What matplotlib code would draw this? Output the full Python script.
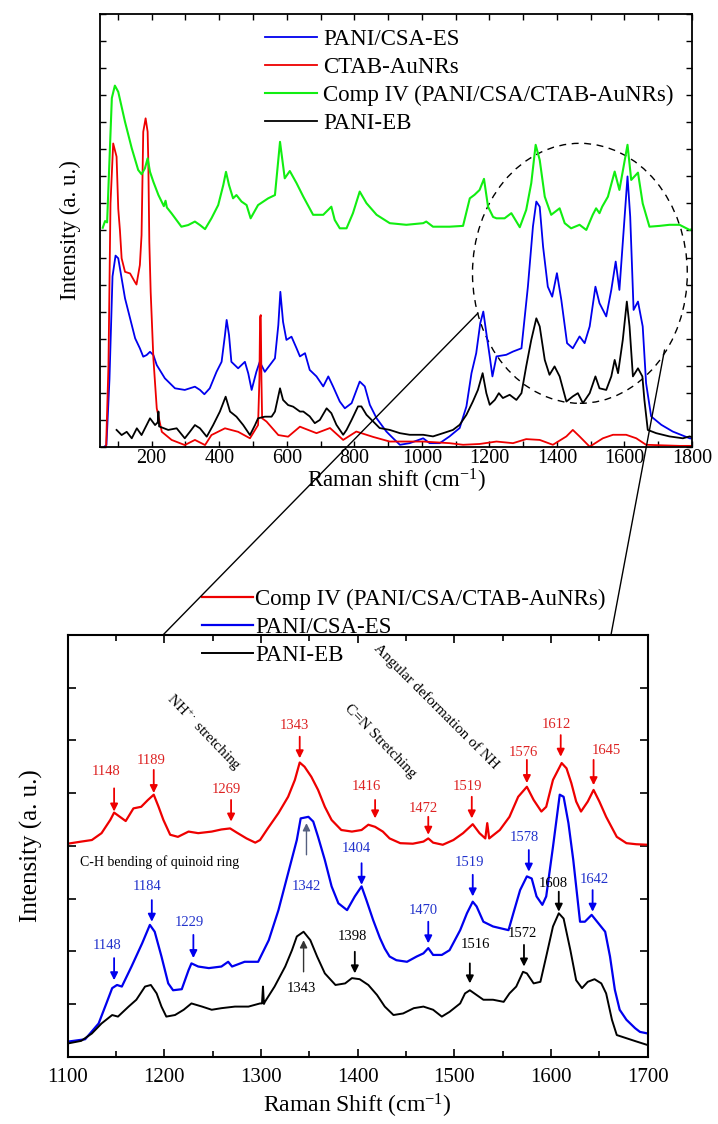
import matplotlib
matplotlib.use("Agg")
import matplotlib.pyplot as plt
from matplotlib.patches import Ellipse, ConnectionPatch
from matplotlib.ticker import MultipleLocator, NullFormatter

plt.rcParams['font.family'] = ['Liberation Serif', 'DejaVu Serif']
plt.rcParams['mathtext.fontset'] = 'custom'
plt.rcParams['mathtext.rm'] = 'Liberation Serif'
plt.rcParams['mathtext.it'] = 'Liberation Serif:italic'

# ---------------- top panel data (full range) ----------------
green_x = [55, 62, 68, 75, 82, 91, 101, 121, 141, 160, 170, 180, 188, 195, 205, 220, 236, 241, 245, 259, 288, 308, 328, 343, 358, 377, 397, 412, 420, 429, 441, 451, 466, 481, 493, 515, 545, 565, 580, 594, 609, 629, 649, 678, 708, 732, 742, 757, 777, 796, 816, 836, 866, 905, 954, 1004, 1013, 1033, 1082, 1122, 1142, 1156, 1171, 1184, 1196, 1211, 1221, 1245, 1265, 1290, 1309, 1324, 1337, 1349, 1364, 1383, 1408, 1423, 1442, 1467, 1487, 1506, 1516, 1526, 1534, 1551, 1571, 1585, 1609, 1620, 1640, 1654, 1674, 1704, 1733, 1763, 1793, 1800]
green_y = [8.1, 8.35, 8.3, 10.6, 12.9, 13.36, 13.13, 12.02, 11.04, 10.24, 10.08, 10.3, 10.67, 10.17, 9.8, 9.31, 8.9, 9.1, 8.85, 8.63, 8.14, 8.2, 8.33, 8.2, 8.05, 8.45, 8.94, 9.68, 10.17, 9.68, 9.19, 9.31, 9.07, 8.94, 8.45, 8.94, 9.19, 9.31, 11.28, 9.93, 10.2, 9.75, 9.25, 8.58, 8.58, 8.88, 8.39, 8.08, 8.08, 8.64, 9.44, 9.01, 8.58, 8.27, 8.21, 8.27, 8.33, 8.14, 8.14, 8.17, 9.19, 9.32, 9.5, 9.91, 8.88, 8.5, 8.45, 8.45, 8.64, 8.12, 8.76, 9.75, 11.17, 10.61, 9.25, 8.58, 8.82, 8.27, 8.08, 8.21, 8.02, 8.58, 8.82, 8.64, 8.88, 9.25, 10.18, 9.5, 11.17, 9.87, 10.14, 9.0, 8.14, 8.17, 8.21, 8.21, 8.02, 8.05]

red_x = [65, 72, 78, 86, 96, 101, 106, 111, 121, 136, 150, 155, 165, 170, 175, 182, 188, 190, 193, 197, 205, 215, 230, 259, 298, 328, 358, 377, 417, 456, 491, 515, 519, 521, 523, 525, 527, 540, 575, 604, 639, 649, 688, 728, 767, 806, 856, 905, 1004, 1082, 1122, 1171, 1221, 1270, 1309, 1349, 1388, 1428, 1447, 1467, 1497, 1536, 1566, 1605, 1635, 1664, 1763, 1800]
red_y = [0.0, 3.0, 9.0, 11.22, 10.73, 8.8, 8.0, 6.97, 6.47, 6.41, 6.1, 6.0, 6.72, 7.83, 11.65, 12.15, 11.65, 10.54, 7.58, 5.73, 3.27, 1.42, 0.55, 0.25, 0.06, 0.25, 0.06, 0.43, 0.68, 0.55, 0.31, 0.8, 2.5, 4.8, 4.87, 2.5, 1.05, 0.93, 0.43, 0.37, 0.74, 0.69, 0.5, 0.69, 0.25, 0.56, 0.36, 0.19, 0.19, 0.13, 0.07, 0.1, 0.19, 0.13, 0.28, 0.25, 0.07, 0.38, 0.62, 0.38, 0.0, 0.31, 0.44, 0.44, 0.31, 0.07, 0.03, 0.03]

blue_x = [60, 66, 75, 84, 93, 101, 111, 121, 136, 151, 165, 175, 185, 195, 205, 215, 239, 269, 298, 328, 343, 356, 372, 392, 407, 417, 422, 429, 436, 456, 476, 486, 496, 510, 520, 535, 550, 565, 575, 581, 589, 599, 614, 629, 639, 654, 668, 688, 708, 723, 737, 757, 772, 792, 816, 831, 846, 866, 895, 915, 935, 964, 1004, 1023, 1053, 1082, 1112, 1132, 1147, 1161, 1173, 1182, 1191, 1201, 1209, 1221, 1250, 1270, 1295, 1314, 1329, 1339, 1349, 1359, 1373, 1386, 1400, 1413, 1430, 1447, 1467, 1482, 1497, 1514, 1526, 1546, 1561, 1574, 1585, 1597, 1609, 1617, 1627, 1640, 1654, 1664, 1679, 1709, 1743, 1793, 1800]
blue_y = [0.0, 0.06, 2.5, 6.3, 7.07, 6.97, 6.23, 5.49, 4.75, 4.01, 3.64, 3.33, 3.39, 3.51, 3.39, 3.02, 2.53, 2.16, 2.1, 2.22, 2.1, 1.94, 2.16, 2.77, 3.14, 4.13, 4.69, 4.13, 3.14, 2.9, 3.14, 2.71, 2.1, 2.77, 3.14, 2.77, 3.02, 3.27, 4.5, 5.73, 4.62, 3.95, 4.07, 3.64, 3.34, 3.46, 2.84, 2.6, 2.23, 2.6, 2.23, 1.67, 1.42, 1.61, 2.41, 2.23, 1.55, 1.05, 0.56, 0.31, 0.07, 0.13, 0.31, 0.13, 0.13, 0.38, 0.69, 1.49, 2.72, 3.46, 4.57, 5.0, 4.2, 3.34, 2.6, 3.34, 3.4, 3.52, 3.64, 5.92, 8.15, 9.07, 8.88, 7.4, 5.92, 5.55, 6.42, 5.43, 3.83, 3.64, 4.08, 3.83, 4.45, 5.92, 5.31, 4.82, 5.8, 6.85, 5.8, 7.9, 10.0, 8.51, 5.06, 5.37, 4.45, 2.35, 1.12, 0.81, 0.56, 0.31, 0.3]

black_x = [96, 111, 126, 141, 156, 170, 185, 195, 210, 218, 220, 222, 249, 274, 298, 313, 328, 343, 363, 382, 402, 419, 432, 451, 471, 491, 506, 515, 535, 555, 565, 580, 589, 604, 619, 639, 649, 668, 683, 698, 718, 732, 747, 767, 777, 792, 811, 821, 836, 856, 875, 905, 935, 964, 1004, 1033, 1063, 1092, 1112, 1132, 1151, 1166, 1180, 1191, 1201, 1216, 1228, 1240, 1260, 1280, 1295, 1309, 1324, 1339, 1349, 1364, 1378, 1393, 1408, 1428, 1447, 1462, 1477, 1497, 1514, 1526, 1546, 1561, 1571, 1581, 1595, 1607, 1615, 1625, 1640, 1653, 1659, 1669, 1694, 1733, 1773, 1793, 1800]
black_y = [0.62, 0.43, 0.55, 0.31, 0.68, 0.43, 0.8, 1.05, 0.8, 0.9, 1.3, 0.75, 0.62, 0.68, 0.31, 0.55, 0.8, 0.68, 0.37, 0.8, 1.3, 1.85, 1.3, 1.11, 0.8, 0.43, 0.8, 1.05, 1.11, 1.11, 1.3, 2.16, 1.73, 1.54, 1.48, 1.3, 1.3, 1.12, 0.87, 0.99, 1.42, 1.24, 0.81, 0.44, 0.62, 0.99, 1.49, 1.49, 1.18, 0.93, 0.69, 0.62, 0.5, 0.44, 0.44, 0.38, 0.5, 0.62, 0.81, 1.18, 1.67, 2.1, 2.72, 1.98, 1.55, 1.73, 1.98, 1.8, 1.92, 1.73, 1.98, 2.97, 3.95, 4.75, 4.45, 3.21, 2.66, 2.97, 2.6, 1.67, 1.86, 1.98, 1.61, 1.98, 2.6, 2.16, 2.1, 2.6, 3.21, 2.72, 3.95, 5.37, 4.45, 2.6, 2.9, 2.6, 1.73, 0.62, 0.5, 0.38, 0.31, 0.38, 0.35]

top_labels = ['PANI/CSA-ES', 'CTAB-AuNRs', 'Comp IV (PANI/CSA/CTAB-AuNRs)', 'PANI-EB']

# ---------------- bottom panel data (1100-1700 zoom) ----------------
comp_x = [1100, 1114, 1125, 1135, 1144, 1148, 1154, 1160, 1168, 1176, 1183, 1189, 1194, 1199, 1206, 1214, 1225, 1235, 1249, 1259, 1268, 1275, 1285, 1294, 1299, 1307, 1318, 1328, 1335, 1340, 1345, 1352, 1359, 1366, 1373, 1383, 1394, 1404, 1411, 1418, 1426, 1433, 1444, 1457, 1468, 1473, 1478, 1488, 1499, 1509, 1519, 1526, 1532, 1534, 1536, 1547, 1557, 1566, 1575, 1582, 1590, 1595, 1602, 1611, 1616, 1621, 1626, 1631, 1638, 1644, 1650, 1657, 1668, 1678, 1688, 1700]
comp_y = [4.04, 4.08, 4.11, 4.24, 4.49, 4.63, 4.55, 4.47, 4.71, 4.74, 4.87, 4.97, 4.74, 4.49, 4.21, 4.17, 4.27, 4.24, 4.27, 4.31, 4.33, 4.25, 4.14, 4.06, 4.11, 4.33, 4.62, 4.93, 5.25, 5.58, 5.5, 5.31, 5.06, 4.74, 4.49, 4.3, 4.27, 4.3, 4.4, 4.36, 4.27, 4.14, 4.05, 4.04, 4.08, 4.14, 4.06, 4.02, 4.11, 4.24, 4.41, 4.24, 4.14, 4.43, 4.14, 4.3, 4.55, 4.93, 5.12, 4.87, 4.65, 4.74, 5.25, 5.57, 5.47, 5.19, 4.84, 4.65, 4.84, 5.06, 4.84, 4.55, 4.17, 4.05, 4.03, 4.02]

es_x = [1100, 1118, 1132, 1140, 1146, 1151, 1156, 1166, 1177, 1185, 1190, 1197, 1204, 1209, 1218, 1225, 1228, 1235, 1246, 1259, 1266, 1270, 1283, 1297, 1308, 1318, 1328, 1337, 1341, 1349, 1354, 1359, 1366, 1373, 1380, 1389, 1397, 1404, 1409, 1416, 1423, 1428, 1433, 1440, 1451, 1461, 1468, 1473, 1478, 1487, 1495, 1506, 1513, 1519, 1523, 1530, 1540, 1556, 1561, 1568, 1575, 1580, 1585, 1591, 1595, 1602, 1609, 1613, 1618, 1623, 1630, 1635, 1642, 1649, 1656, 1661, 1666, 1671, 1678, 1687, 1692, 1700]
es_y = [0.285, 0.33, 0.63, 1.01, 1.3, 1.36, 1.33, 1.71, 2.15, 2.5, 2.37, 1.9, 1.39, 1.26, 1.28, 1.64, 1.77, 1.71, 1.68, 1.71, 1.8, 1.71, 1.8, 1.8, 2.21, 2.78, 3.48, 4.11, 4.52, 4.55, 4.46, 4.17, 3.73, 3.23, 2.91, 2.78, 3.04, 3.23, 2.97, 2.59, 2.25, 2.05, 1.9, 1.83, 1.8, 1.9, 1.96, 2.06, 1.93, 1.93, 2.02, 2.4, 2.72, 2.94, 2.85, 2.56, 2.47, 2.4, 2.72, 3.16, 3.42, 3.38, 3.04, 2.88, 3.04, 3.98, 4.97, 4.93, 4.43, 3.73, 2.56, 2.56, 2.69, 2.53, 2.37, 1.9, 1.27, 0.89, 0.7, 0.54, 0.47, 0.44]

eb_x = [1100, 1114, 1125, 1135, 1146, 1152, 1163, 1171, 1180, 1186, 1192, 1197, 1202, 1211, 1220, 1228, 1239, 1249, 1259, 1273, 1287, 1299, 1301, 1302, 1303, 1304, 1314, 1325, 1332, 1337, 1344, 1351, 1358, 1366, 1377, 1387, 1394, 1402, 1411, 1420, 1428, 1437, 1447, 1458, 1468, 1478, 1487, 1495, 1506, 1511, 1516, 1523, 1530, 1540, 1551, 1557, 1564, 1571, 1575, 1582, 1589, 1595, 1602, 1608, 1613, 1620, 1626, 1632, 1638, 1645, 1652, 1657, 1663, 1668, 1678, 1688, 1700]
eb_y = [0.25, 0.3, 0.44, 0.63, 0.79, 0.76, 0.95, 1.08, 1.33, 1.36, 1.2, 0.95, 0.76, 0.79, 0.89, 1.01, 0.95, 0.89, 0.92, 0.95, 0.95, 1.01, 1.01, 1.33, 1.0, 1.04, 1.33, 1.71, 2.02, 2.28, 2.37, 2.21, 1.9, 1.58, 1.36, 1.39, 1.49, 1.47, 1.36, 1.17, 0.95, 0.79, 0.82, 0.92, 0.95, 0.89, 0.76, 0.85, 1.01, 1.2, 1.26, 1.17, 1.08, 1.08, 1.04, 1.2, 1.33, 1.61, 1.58, 1.39, 1.42, 1.9, 2.47, 2.72, 2.62, 2.02, 1.45, 1.3, 1.42, 1.47, 1.39, 1.2, 0.7, 0.41, 0.35, 0.29, 0.22]

bottom_labels = ['Comp IV (PANI/CSA/CTAB-AuNRs)', 'PANI/CSA-ES', 'PANI-EB']

# peak annotations: label, text x, text y, arrow x, arrow start y, arrow end y
red_peaks = ['1148', '1189', '1269', '1343', '1416', '1472', '1519', '1576', '1612', '1645']
red_tx = [1140, 1186, 1264, 1334, 1409, 1468, 1514, 1571, 1606, 1657]
red_ty = [5.41, 5.62, 5.07, 6.29, 5.12, 4.71, 5.12, 5.77, 6.31, 5.80]
red_ax = [1148, 1189, 1269, 1340, 1418, 1473, 1518, 1575, 1610, 1644]
red_a0 = [5.09, 5.44, 4.87, 6.07, 4.87, 4.55, 4.93, 5.63, 6.10, 5.63]
red_a1 = [4.65, 5.00, 4.46, 5.66, 4.52, 4.21, 4.52, 5.19, 5.69, 5.15]

blue_peaks = ['1148', '1184', '1229', '1404', '1470', '1519', '1578', '1642']
blue_tx = [1141, 1182, 1226, 1399, 1468, 1516, 1572, 1645]
blue_ty = [2.10, 3.23, 2.55, 3.95, 2.78, 3.69, 4.16, 3.36]
blue_ax = [1148, 1187, 1230, 1404, 1473, 1519, 1577, 1643]
blue_a0 = [1.87, 2.97, 2.31, 3.67, 2.56, 3.45, 3.92, 3.16]
blue_a1 = [1.45, 2.56, 1.87, 3.26, 2.15, 3.04, 3.51, 2.75]

black_peaks = ['1398', '1516', '1572', '1608']
black_tx = [1394, 1522, 1570, 1602]
black_ty = [2.28, 2.12, 2.33, 3.29]
black_ax = [1397, 1516, 1572, 1608]
black_a0 = [1.99, 1.77, 2.12, 3.13]
black_a1 = [1.58, 1.39, 1.71, 2.75]

# ---------------- figure ----------------
fig = plt.figure(figsize=(7.18, 11.24), dpi=100)
ax1 = fig.add_axes([0.1393, 0.6026, 0.8245, 0.3847])
ax2 = fig.add_axes([0.0943, 0.0599, 0.8078, 0.3752])

RED = '#ee0000'
BLUE = '#0000ee'
GREEN = '#11ee11'

ax1.plot(blue_x, blue_y, color=BLUE, lw=1.3, label=top_labels[0])
ax1.plot(red_x, red_y, color=RED, lw=1.3, label=top_labels[1])
ax1.plot(green_x, green_y, color=GREEN, lw=1.5, label=top_labels[2])
ax1.plot(black_x, black_y, color='black', lw=1.3, label=top_labels[3])
ax1.set_xlim(47, 1800)
ax1.set_ylim(0, 16)
ax1.xaxis.set_major_locator(MultipleLocator(200))
ax1.xaxis.set_minor_locator(MultipleLocator(100))
ax1.yaxis.set_major_locator(MultipleLocator(1))
ax1.yaxis.set_major_formatter(NullFormatter())
ax1.tick_params(which='both', direction='in', top=True, right=True, length=4, width=1, labelsize=14.5, pad=2)
ax1.set_xlabel('Raman shift (cm$^{-1}$)', fontsize=16.5, labelpad=-1)
ax1.set_ylabel('Intensity (a. u.)', fontsize=16.5, labelpad=12)
for s in ax1.spines.values():
    s.set_linewidth(1.3)
ax1.legend(loc='upper left', bbox_to_anchor=(0.279, 0.967), frameon=False, fontsize=16.5,
           handlelength=2.27, handletextpad=0.26, labelspacing=0.31, borderpad=0, borderaxespad=0)

ax1.add_patch(Ellipse((1468, 6.415), 636, 9.62, fill=False, ec='black', lw=1.0, ls=(0, (5, 4))))

ax2.plot(comp_x, comp_y, color=RED, lw=1.6, label=bottom_labels[0])
ax2.plot(es_x, es_y, color=BLUE, lw=1.6, label=bottom_labels[1])
ax2.plot(eb_x, eb_y, color='black', lw=1.4, label=bottom_labels[2])
ax2.set_xlim(1100, 1700)
ax2.set_ylim(0, 8)
ax2.xaxis.set_major_locator(MultipleLocator(100))
ax2.xaxis.set_minor_locator(MultipleLocator(50))
ax2.yaxis.set_major_locator(MultipleLocator(1))
ax2.yaxis.set_major_formatter(NullFormatter())
ax2.tick_params(which='major', direction='in', top=True, right=True, length=6, width=1.2, labelsize=15, pad=8)
ax2.tick_params(which='minor', direction='in', top=True, right=True, length=4, width=1.2)
ax2.set_xlabel('Raman Shift (cm$^{-1}$)', fontsize=17, labelpad=4)
ax2.set_ylabel('Intensity (a. u.)', fontsize=18, labelpad=10)
for s in ax2.spines.values():
    s.set_linewidth(1.5)
ax2.legend(loc='upper left', bbox_to_anchor=(0.2316, 1.109), frameon=False, fontsize=16.5,
           handlelength=2.23, handletextpad=0.08, labelspacing=0.3, borderpad=0, borderaxespad=0)

TXT_RED = '#dd2222'
TXT_BLUE = '#2233cc'


def label_peaks(names, tx, ty, axx, a0, a1, arrow_col, text_col):
    for n, x, y, xa, ya, yb in zip(names, tx, ty, axx, a0, a1):
        ax2.text(x, y, n, color=text_col, fontsize=10.5, ha='center', va='center')
        ax2.annotate('', xy=(xa, yb), xytext=(xa, ya),
                     arrowprops=dict(arrowstyle='-|>', lw=1.3, mutation_scale=11,
                                     shrinkA=0, shrinkB=0, color=arrow_col))


label_peaks(red_peaks, red_tx, red_ty, red_ax, red_a0, red_a1, RED, TXT_RED)
label_peaks(blue_peaks, blue_tx, blue_ty, blue_ax, blue_a0, blue_a1, BLUE, TXT_BLUE)
label_peaks(black_peaks, black_tx, black_ty, black_ax, black_a0, black_a1, 'black', 'black')

# upward arrows below the 1342/1343 maxima
ax2.text(1347, 3.23, '1342', color=TXT_BLUE, fontsize=10.5, ha='center', va='center')
ax2.annotate('', xy=(1347, 4.43), xytext=(1347, 3.83),
             arrowprops=dict(arrowstyle='-|>', lw=1.0, mutation_scale=11, shrinkA=0, shrinkB=0,
                             color='#556080'))
ax2.text(1342, 1.30, '1343', color='black', fontsize=10.5, ha='center', va='center')
ax2.annotate('', xy=(1344, 2.21), xytext=(1344, 1.61),
             arrowprops=dict(arrowstyle='-|>', lw=1.0, mutation_scale=11, shrinkA=0, shrinkB=0,
                             color='#333333'))

ax2.text(1240, 6.14, 'NH$^{+\\cdot}$ stretching', rotation=-46, fontsize=11, ha='center', va='center',
         rotation_mode='anchor')
ax2.text(1423, 5.99, 'C=N Stretching', rotation=-46, fontsize=11, ha='center', va='center',
         rotation_mode='anchor')
ax2.text(1481, 6.65, 'Angular deformation of NH', rotation=-45, fontsize=11, ha='center', va='center',
         rotation_mode='anchor')
ax2.text(1113, 3.69, 'C-H bending of quinoid ring', fontsize=10, ha='left', va='center')

# zoom connectors from the dashed region to the lower panel
for (xa, ya), (xb, yb) in [((1166, 4.94), (1198.6, 8.0)), ((1718.6, 3.58), (1662, 8.0))]:
    con = ConnectionPatch(xyA=(xa, ya), coordsA=ax1.transData, xyB=(xb, yb), coordsB=ax2.transData,
                          color='black', lw=1.0)
    fig.add_artist(con)

fig.savefig('out.png', dpi=100)
